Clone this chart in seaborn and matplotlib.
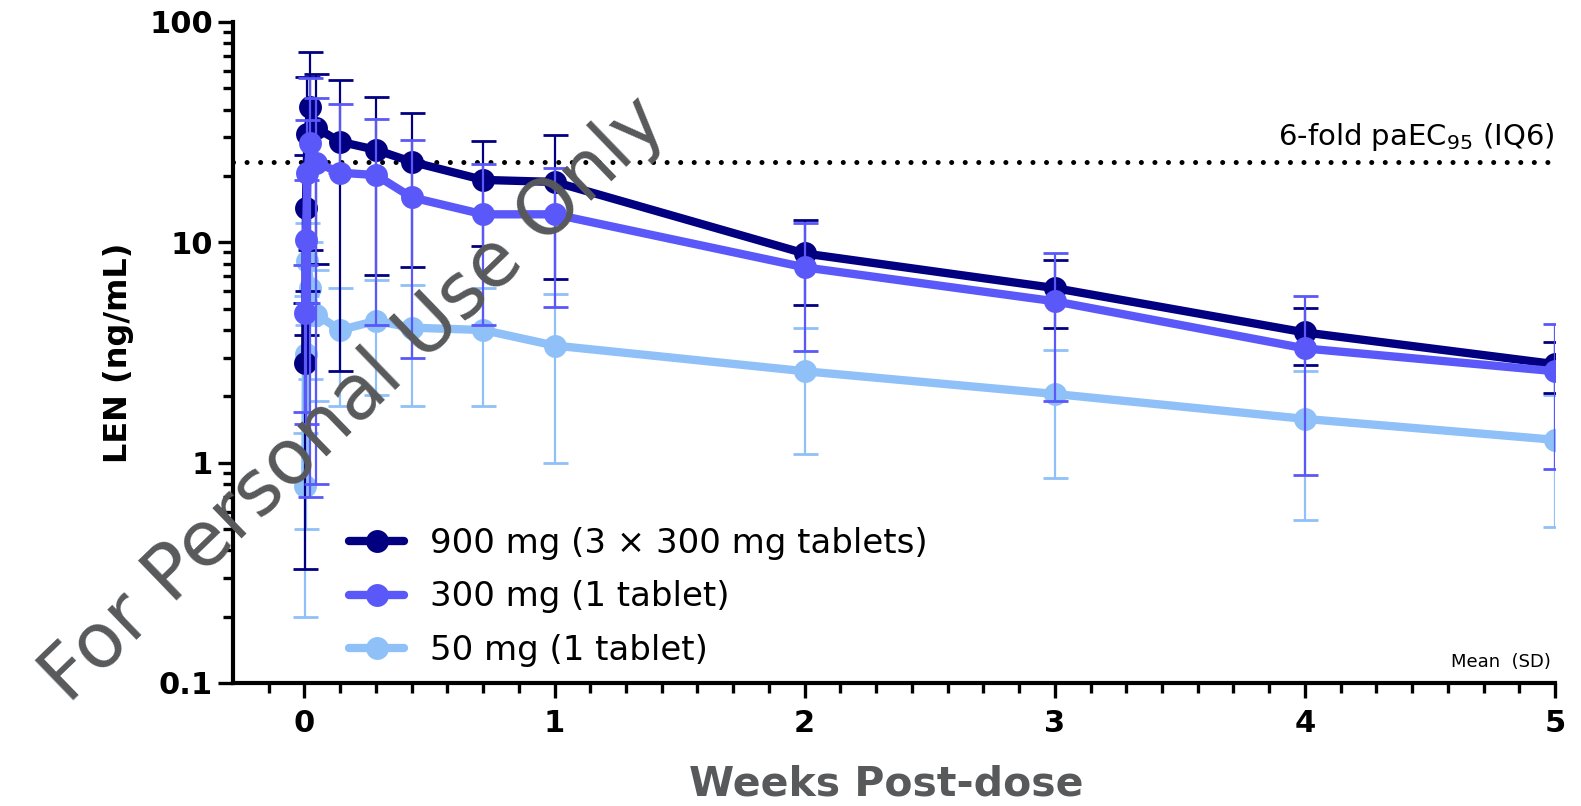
import numpy as np
import pandas as pd
import matplotlib
matplotlib.use("Agg")
import matplotlib.pyplot as plt
from matplotlib.ticker import FixedLocator, LogLocator, NullFormatter
import seaborn as sns

# Sampling times, hours post-dose
time_hours = [0.5, 1, 2, 4, 8, 24, 48, 72, 120, 168, 336, 504, 672, 840]

dose_labels = ["900 mg (3 × 300 mg tablets)", "300 mg (1 tablet)", "50 mg (1 tablet)"]
dose_colors = ["#020080", "#5a58f8", "#90c0f8"]

# Mean (SD) LEN plasma concentrations, ng/mL
mean_900 = [2.83, 14.3, 31.0, 41.0, 33.0, 28.6, 26.3, 23.2, 19.2, 18.8, 8.9, 6.2, 3.9, 2.8]
sd_900 = [2.5, 10.5, 25.0, 31.8, 25.0, 26.0, 19.2, 15.5, 9.6, 12.0, 3.7, 2.1, 1.13, 0.73]

mean_300 = [4.8, 10.3, 20.6, 28.2, 23.0, 20.7, 20.2, 16.0, 13.4, 13.4, 7.7, 5.4, 3.3, 2.6]
sd_300 = [3.1, 8.8, 15.3, 27.5, 22.2, 21.8, 16.0, 13.0, 9.2, 8.3, 4.5, 3.5, 2.42, 1.66]

mean_50 = [0.78, 3.1, 8.2, 6.2, 4.7, 4.0, 4.4, 4.1, 4.0, 3.4, 2.6, 2.05, 1.58, 1.27]
sd_50 = [0.58, 2.6, 4.0, 3.8, 2.8, 2.2, 2.37, 2.3, 2.2, 2.4, 1.5, 1.2, 1.03, 0.76]

# 6-fold protein-adjusted EC95 (ng/mL)
paec95_6fold = 23.2

xtick_values = [0, 1, 2, 3, 4, 5]
xtick_labels = ["0", "1", "2", "3", "4", "5"]
ytick_values = [0.1, 1, 10, 100]
ytick_labels = ["0.1", "1", "10", "100"]

weeks = np.array(time_hours) / 168.0
frames = []
for label, m, s in zip(dose_labels, [mean_900, mean_300, mean_50], [sd_900, sd_300, sd_50]):
    frames.append(pd.DataFrame({"week": weeks, "conc": m, "sd": s, "dose": label}))
df = pd.concat(frames, ignore_index=True)

sns.set_style("ticks")
plt.rcParams["font.family"] = ["DejaVu Sans"]
plt.rcParams["text.color"] = "black"
plt.rcParams["axes.labelcolor"] = "black"
plt.rcParams["xtick.color"] = "black"
plt.rcParams["ytick.color"] = "black"
plt.rcParams["lines.solid_capstyle"] = "round"
plt.rcParams["lines.solid_joinstyle"] = "round"

W, H = 1581, 806
fig = plt.figure(figsize=(W / 100, H / 100), dpi=100)
ax = fig.add_axes([233 / W, 1 - 683 / H, (1555 - 233) / W, (683 - 22) / H])

# drawing order: 50 mg underneath, 300 mg on top
z_order = {dose_labels[2]: 3, dose_labels[0]: 4, dose_labels[1]: 5}
for label, color in zip([dose_labels[2], dose_labels[0], dose_labels[1]],
                        [dose_colors[2], dose_colors[0], dose_colors[1]]):
    sub = df[df["dose"] == label]
    z = z_order[label]
    lower = np.where(sub["conc"] - sub["sd"] > 0, sub["sd"], 0.0)
    ax.errorbar(sub["week"], sub["conc"], yerr=[lower, sub["sd"]], fmt="none",
                ecolor=color, elinewidth=1.6, capsize=9, capthick=2.0, zorder=z - 0.5)
    sns.lineplot(data=sub, x="week", y="conc", ax=ax, color=color, label=label,
                 marker="o", markersize=16.5, markeredgewidth=0, linewidth=6,
                 estimator=None, sort=False, zorder=z)

ax.axhline(paec95_6fold, color="black", linestyle=(0, (0.01, 2.7)), linewidth=3.6,
           dash_capstyle="round", zorder=1.5)
ax.text(5.0, 27.6, r"6-fold paEC$_{95}$ (IQ6)", ha="right", va="baseline", fontsize=21)
ax.text(4.985, 0.118, "Mean  (SD)", ha="right", va="baseline", fontsize=13)

ax.set_yscale("log")
ax.set_ylim(0.1, 100)
ax.set_xlim(-2 / 7, 5)
ax.set_yticks(ytick_values)
ax.set_yticklabels(ytick_labels, fontsize=22, fontweight="bold")
ax.yaxis.set_minor_locator(LogLocator(base=10, subs=range(2, 10)))
ax.yaxis.set_minor_formatter(NullFormatter())
ax.set_xticks(xtick_values)
ax.set_xticklabels(xtick_labels, fontsize=22, fontweight="bold")
ax.xaxis.set_minor_locator(FixedLocator([k / 7 for k in range(-1, 36) if k % 7 != 0]))
ax.set_xlabel("")
ax.set_ylabel("")

for side in ["top", "right"]:
    ax.spines[side].set_visible(False)
for side in ["left", "bottom"]:
    ax.spines[side].set_linewidth(3)
    ax.spines[side].set_color("black")
ax.tick_params(axis="both", which="major", length=10.5, width=2.4, color="black")
ax.tick_params(axis="both", which="minor", length=7, width=2.4, color="black")
ax.tick_params(axis="x", which="major", pad=8)
ax.tick_params(axis="y", which="major", pad=4)

handles, labels = ax.get_legend_handles_labels()
order = [labels.index(l) for l in dose_labels]
ax.legend([handles[i] for i in order], [labels[i] for i in order],
          loc="upper left", bbox_to_anchor=(0.088, 0.236), frameon=False,
          fontsize=24.5, borderpad=0, borderaxespad=0, labelspacing=0.6,
          handlelength=1.62, handletextpad=0.75)

fig.text(119 / W, 1 - 353 / H, "LEN (ng/mL)", rotation=90, ha="center", va="center",
         fontsize=23, fontweight="bold")
fig.text(886 / W, 1 - 785 / H, "Weeks Post-dose", ha="center", va="center",
         fontsize=29.5, fontweight="heavy", color="#58595b")
fig.text(355 / W, 1 - 400 / H, "For Personal Use Only", rotation=44,
         rotation_mode="anchor", ha="center", va="center", fontsize=55,
         color="#58595b", zorder=10)

fig.savefig("out.png", dpi=100)
